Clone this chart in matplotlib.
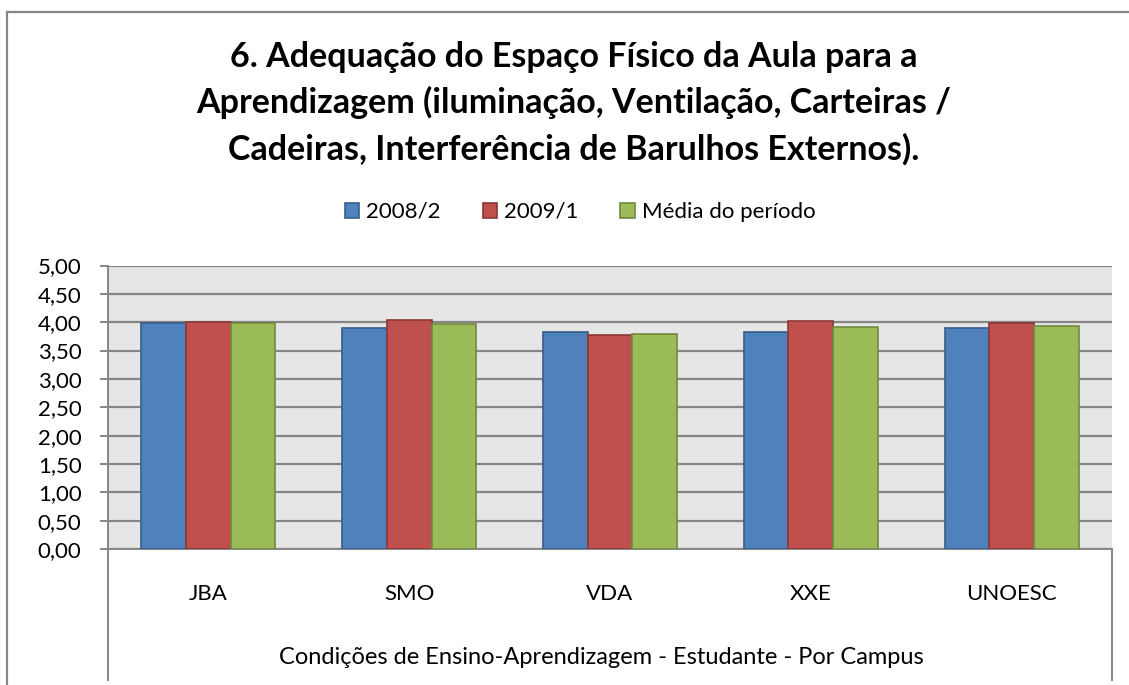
import numpy as np
import matplotlib
matplotlib.use("Agg")
import matplotlib.pyplot as plt
from matplotlib.ticker import FuncFormatter

plt.rcParams['font.family'] = ['Lato', 'DejaVu Sans']

# --- dados ---
campus = ["JBA", "SMO", "VDA", "XXE", "UNOESC"]
s2008_2 = [3.98, 3.89, 3.83, 3.82, 3.90]
s2009_1 = [4.00, 4.04, 3.77, 4.02, 3.98]
media = [3.98, 3.96, 3.80, 3.92, 3.94]
series_names = ["2008/2", "2009/1", "Média do período"]

title_lines = [
    "6. Adequação do Espaço Físico da Aula para a",
    "Aprendizagem (iluminação, Ventilação, Carteiras /",
    "Cadeiras, Interferência de Barulhos Externos).",
]
xlabel = "Condições de Ensino-Aprendizagem - Estudante - Por Campus"

fills = ["#4F81BD", "#C0504D", "#9BBB59"]
edges = ["#385D8A", "#8C3836", "#71893F"]
gray = "#868686"

W, H = 1129, 685
fig = plt.figure(figsize=(W / 100, H / 100), dpi=100)

# area do grafico (pixels)
left, right, top, bottom = 108, 1112, 265.5, 549
ax = fig.add_axes([left / W, 1 - bottom / H, (right - left) / W, (bottom - top) / H])
ax.set_facecolor("#E6E6E6")

x = np.arange(len(campus))
w = 1 / 4.5
bars = []
for i, vals in enumerate([s2008_2, s2009_1, media]):
    b = ax.bar(x + (i - 1) * w, vals, width=w, color=fills[i], edgecolor=edges[i],
               linewidth=1.2, label=series_names[i], zorder=3)
    bars.append(b)

ax.set_xlim(-0.5, len(campus) - 0.5)
ax.set_ylim(0, 5)
ax.set_yticks(np.arange(0, 5.01, 0.5))
ax.yaxis.set_major_formatter(FuncFormatter(lambda v, p: f"{v:.2f}".replace(".", ",")))
ax.grid(axis="y", color=gray, linewidth=1.6, zorder=0)
ax.set_axisbelow(True)

for s in ["top", "right"]:
    ax.spines[s].set_visible(False)
for s in ["left", "bottom"]:
    ax.spines[s].set_color(gray)
    ax.spines[s].set_linewidth(1.4)

ax.tick_params(axis="y", length=6, width=1.4, color=gray, labelsize=16, pad=13)
ax.set_xticks(x)
ax.set_xticklabels(campus)
ax.tick_params(axis="x", length=0, labelsize=16, pad=25)

# linhas do eixo de categorias
for xp in [0, 1]:
    ax.plot([xp, xp], [0, -(680 - bottom) / (bottom - top)], transform=ax.transAxes,
            color=gray, linewidth=1.4, clip_on=False)

# borda externa do grafico
fig.add_artist(plt.Line2D([7 / W, 7 / W], [0, 1 - 12 / H], color=gray, linewidth=1.6))
fig.add_artist(plt.Line2D([7 / W, 1], [1 - 12 / H, 1 - 12 / H], color=gray, linewidth=1.6))

# titulo
for yb, line in zip([67, 113, 160], title_lines):
    fig.text(574 / W, 1 - yb / H, line, ha="center", va="baseline",
             fontsize=24.5, fontweight="bold")

fig.text(601 / W, 1 - 658 / H, xlabel, ha="center", va="center", fontsize=17)

fig.legend(handles=bars, loc="center", bbox_to_anchor=(580 / W, 1 - 212 / H), ncol=3,
           frameon=False, fontsize=16, handlelength=0.65, handleheight=0.65,
           handletextpad=0.3, columnspacing=1.9)

fig.savefig("out.png", dpi=100)
